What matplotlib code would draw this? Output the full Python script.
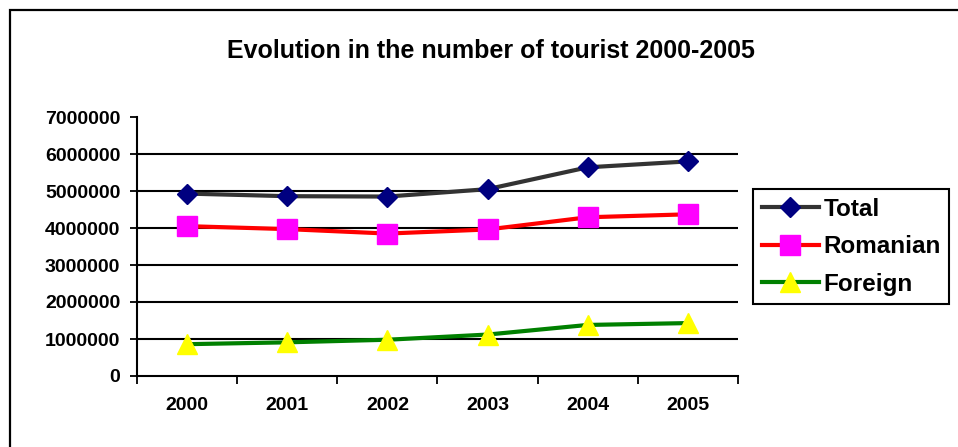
import numpy as np
import matplotlib
matplotlib.use("Agg")
import matplotlib.pyplot as plt
from matplotlib.patches import Rectangle
from matplotlib.ticker import FixedLocator

plt.rcParams['font.family'] = ['Liberation Sans', 'DejaVu Sans']
plt.rcParams['font.weight'] = 'bold'

years = ["2000", "2001", "2002", "2003", "2004", "2005"]
total = [4930000, 4860000, 4850000, 5050000, 5640000, 5800000]
romanian = [4050000, 3970000, 3850000, 3960000, 4290000, 4370000]
foreign = [860000, 910000, 980000, 1120000, 1380000, 1430000]
y_ticks = [0, 1000000, 2000000, 3000000, 4000000, 5000000, 6000000, 7000000]

fig = plt.figure(figsize=(9.58, 4.47), dpi=100)
fig.patch.set_facecolor('white')

# frame around the chart area (runs off the right and bottom edges)
fig.patches.append(Rectangle((10 / 958, -0.1), 1.2, 1.1 - 10 / 447, transform=fig.transFigure,
                             fill=False, edgecolor='black', linewidth=1.6, zorder=0))

ax = fig.add_axes([137 / 958, 1 - 376 / 447, 601 / 958, 259 / 447])

x = np.arange(len(years))
ax.plot(x, total, color="#333333", linewidth=3, marker="D", markersize=10,
        markerfacecolor="#000080", markeredgecolor="#000080", label="Total", zorder=3)
ax.plot(x, romanian, color="#ff0000", linewidth=3, marker="s", markersize=14,
        markerfacecolor="#ff00ff", markeredgecolor="#ff00ff", label="Romanian", zorder=3)
ax.plot(x, foreign, color="#008000", linewidth=3, marker="^", markersize=14,
        markerfacecolor="#ffff00", markeredgecolor="#ffff00", label="Foreign", zorder=3)

ax.set_xlim(-0.5, len(years) - 0.5)
ax.set_ylim(0, 7000000)

fontsize = 14
ax.set_yticks(y_ticks)
ax.set_yticklabels([str(v) for v in y_ticks], fontsize=fontsize, fontweight='bold')
ax.set_xticks(x)
ax.set_xticklabels(years, fontsize=fontsize, fontweight='bold')
ax.xaxis.set_minor_locator(FixedLocator(np.arange(-0.5, len(years), 1.0)))
ax.tick_params(axis='x', which='major', length=0, pad=15)
ax.tick_params(axis='x', which='minor', length=6, width=1.3, direction='out')
ax.tick_params(axis='y', which='major', length=5, width=1.3, direction='out', pad=7)

ax.yaxis.grid(True, color='black', linewidth=1.5)
ax.get_ygridlines()[-1].set_visible(False)
ax.get_ygridlines()[0].set_visible(False)
ax.set_axisbelow(True)

for side in ["top", "right"]:
    ax.spines[side].set_visible(False)
for side in ["left", "bottom"]:
    ax.spines[side].set_color('black')
    ax.spines[side].set_linewidth(1.5)

fig.text(491 / 958, 1 - 51 / 447, "Evolution in the number of tourist 2000-2005",
         ha='center', va='center', fontsize=18, fontweight='bold')

leg = ax.legend(loc='upper left', bbox_to_anchor=(753 / 958, 1 - 189 / 447),
                bbox_transform=fig.transFigure, borderaxespad=0, fancybox=False,
                frameon=True, edgecolor='black', handlelength=2.35,
                handletextpad=0.2, borderpad=0.35, labelspacing=0.6,
                prop={'weight': 'bold', 'size': 17.5})
leg.get_frame().set_linewidth(1.5)
leg.get_frame().set_alpha(1)

fig.savefig("out.png", dpi=100)
